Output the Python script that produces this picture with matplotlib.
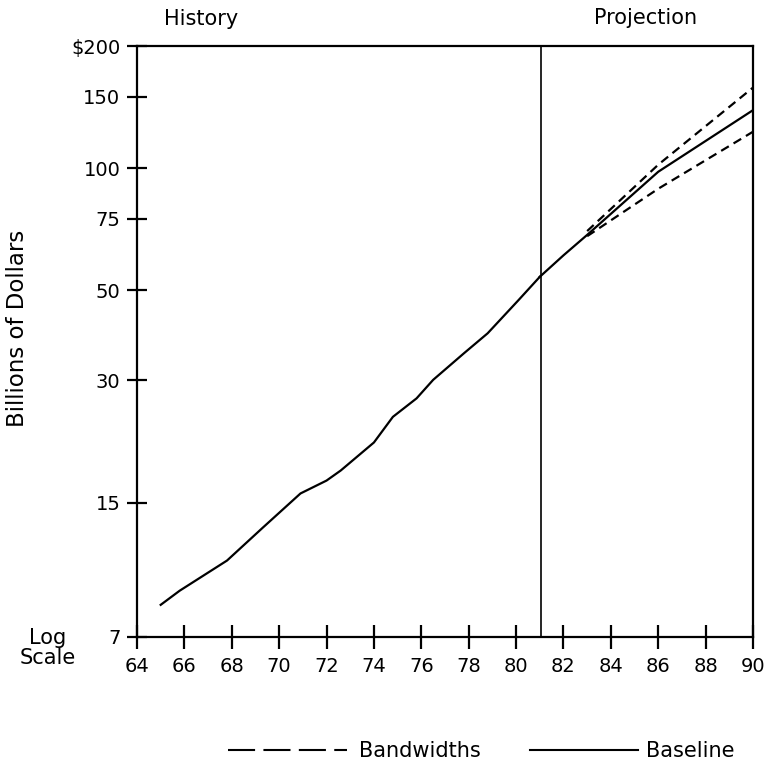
import numpy as np
import matplotlib.pyplot as plt
from matplotlib.lines import Line2D

plt.rcParams['font.family'] = ['DejaVu Sans']

# history
hist_year = [65.0, 65.8, 67.8, 69.3, 70.9, 72.0, 72.6, 74.0, 74.8, 75.8, 76.5, 77.8, 78.8, 80.1, 81.0]
hist_val = [8.4, 9.1, 10.8, 13.0, 15.8, 17.0, 18.0, 21.1, 24.4, 27.1, 30.1, 35.0, 39.2, 47.3, 54.0]

# projection
base_year = [81.0, 82.0, 83.0, 86.0, 90.0]
base_val = [54.0, 61.0, 68.5, 98.0, 139.0]
band_year = [83.0, 86.0, 90.0]
band_hi = [70.0, 102.0, 158.0]
band_lo = [68.0, 89.0, 123.0]

yticks = [7, 15, 30, 50, 75, 100, 150, 200]
ytick_labels = ['7', '15', '30', '50', '75', '100', '150', '$200']
xticks = list(range(64, 91, 2))

fig = plt.figure(figsize=(7.74, 7.68), dpi=100)
ax = fig.add_axes([0.177, 0.1706, 0.7959, 0.7695])

lw = 1.6
ax.plot(hist_year, hist_val, color='black', lw=lw)
ax.plot(base_year, base_val, color='black', lw=lw)
ax.plot(band_year, band_hi, color='black', lw=lw, ls=(0, (4, 2.5)))
ax.plot(band_year, band_lo, color='black', lw=lw, ls=(0, (4, 2.5)))
ax.axvline(81.05, color='black', lw=1.2)

ax.set_yscale('log')
ax.set_xlim(64, 90)
ax.set_ylim(7, 200)
ax.set_yticks(yticks)
ax.set_yticklabels(ytick_labels)
ax.yaxis.set_minor_locator(plt.NullLocator())
ax.set_xticks(xticks)
ax.set_xticklabels([str(x) for x in xticks])

ax.tick_params(axis='y', direction='inout', length=14, width=1.6, pad=5, labelsize=14)
ax.tick_params(axis='x', direction='inout', length=17, width=1.6, pad=6, labelsize=14)
for s in ax.spines.values():
    s.set_linewidth(1.6)

fig.text(18 / 774, 1 - 328 / 768, 'Billions of Dollars', rotation=90,
         ha='center', va='center', fontsize=16.5)

fig.text(201 / 774, 1 - 19 / 768, 'History', ha='center', va='center', fontsize=15)
fig.text(646 / 774, 1 - 18 / 768, 'Projection', ha='center', va='center', fontsize=15)
fig.text(48 / 774, 1 - 648 / 768, 'Log\nScale', ha='center', va='center', fontsize=15,
         linespacing=0.95)

# legend below the chart
fig.add_artist(Line2D([228 / 774, 347 / 774], [1 - 750 / 768] * 2, color='black', lw=1.5,
                      ls=(0, (13, 4))))
fig.text(359 / 774, 1 - 751 / 768, 'Bandwidths', ha='left', va='center', fontsize=15)
fig.add_artist(Line2D([530 / 774, 638 / 774], [1 - 750 / 768] * 2, color='black', lw=1.5))
fig.text(646 / 774, 1 - 751 / 768, 'Baseline', ha='left', va='center', fontsize=15)

fig.savefig('out.png', dpi=100)
